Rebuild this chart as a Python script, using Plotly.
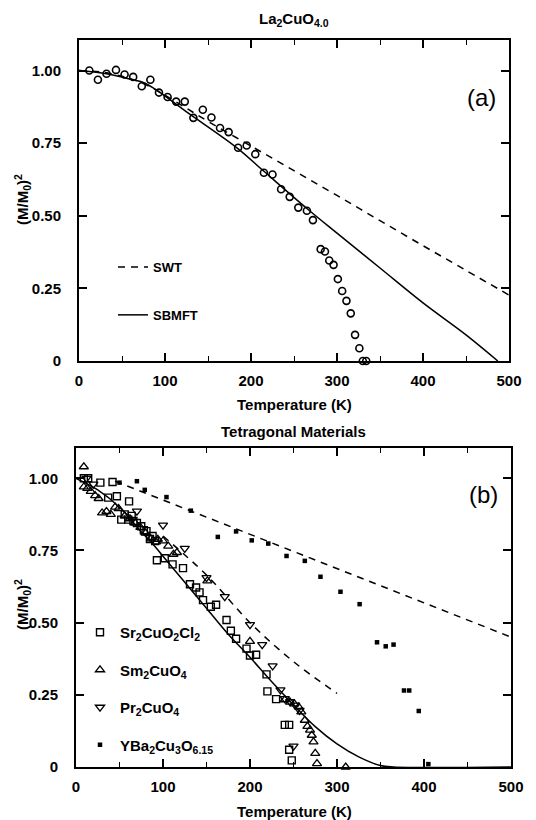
import plotly.graph_objects as go

# ---------------- Panel (a): La2CuO4.0 ----------------
la_T = [12, 22, 32, 43, 53, 63, 73, 83, 93, 103, 113, 123, 133, 144, 154, 164, 174,
        185, 195, 205, 215, 225, 235, 245, 255, 265, 272, 281, 286, 291, 296, 301,
        306, 311, 316, 321, 326, 330, 334]
la_M = [1.00, 0.968, 0.989, 1.002, 0.986, 0.978, 0.946, 0.968, 0.924, 0.909, 0.893,
        0.893, 0.837, 0.865, 0.838, 0.802, 0.788, 0.734, 0.742, 0.712, 0.648, 0.642,
        0.591, 0.565, 0.528, 0.517, 0.485, 0.385, 0.377, 0.346, 0.331, 0.282, 0.241,
        0.207, 0.164, 0.090, 0.044, 0.0, 0.0]

swt_T = [0, 25, 50, 75, 100, 125, 150, 200, 250, 300, 350, 400, 450, 500]
swt_M = [1.0, 0.995, 0.98, 0.955, 0.915, 0.87, 0.825, 0.74, 0.655, 0.57, 0.483,
         0.397, 0.312, 0.227]

sb_T = [0, 30, 60, 77, 130, 184, 215, 265, 300, 350, 400, 450, 487]
sb_M = [1.0, 0.99, 0.97, 0.956, 0.847, 0.733, 0.653, 0.525, 0.44, 0.32, 0.2, 0.09, 0.0]

# ---------------- Panel (b): Tetragonal materials ----------------
sr_T = [9, 14, 28, 42, 37, 47, 61, 52, 56, 60, 64, 66, 70, 75, 78, 81, 85, 88, 91,
        93, 102, 111, 123, 131, 138, 142, 146, 155, 161, 173, 178, 184, 196, 200,
        207, 219, 220, 230, 240, 245, 245, 248, 254, 265]
sr_M = [1.0, 1.0, 0.985, 0.987, 0.933, 0.938, 0.92, 0.857, 0.875, 0.857, 0.87, 0.852,
        0.845, 0.834, 0.82, 0.817, 0.79, 0.80, 0.783, 0.716, 0.723, 0.702, 0.689,
        0.633, 0.622, 0.605, 0.578, 0.555, 0.562, 0.509, 0.472, 0.444, 0.41, 0.386,
        0.389, 0.321, 0.262, 0.235, 0.146, 0.146, 0.06, 0.023, -0.012, -0.012]

sm_T = [9, 9, 13, 17, 22, 26, 30, 35, 40, 45, 49, 56, 62, 68, 74, 80, 86, 92, 94,
        100, 106, 112, 116, 151, 200, 240, 246, 251, 256, 259, 263, 266, 269, 271,
        273, 275, 277, 289, 294, 299, 310]
sm_M = [1.04, 0.97, 0.965, 0.955, 0.94, 0.93, 0.88, 0.885, 0.875, 0.90, 0.895, 0.87,
        0.86, 0.845, 0.83, 0.81, 0.79, 0.78, 0.789, 0.783, 0.765, 0.737, 0.743,
        0.645, 0.435, 0.233, 0.225, 0.219, 0.208, 0.191, 0.162, 0.141, 0.128, 0.11,
        0.087, 0.047, 0.012, -0.005, -0.005, -0.003, 0.0]

pr_T = [12, 20, 70, 100, 125, 150, 171, 200, 214, 226, 235, 240, 246, 252, 257,
        250, 256]
pr_M = [1.0, 0.98, 0.886, 0.838, 0.757, 0.656, 0.59, 0.493, 0.424, 0.35, 0.267,
        0.237, 0.226, 0.214, 0.196, 0.072, -0.008]

yb_T = [50, 70, 79, 104, 132, 163, 184, 202, 221, 242, 263, 281, 304, 326, 346,
        356, 365, 377, 383, 394, 405, 439, 471]
yb_M = [0.985, 0.99, 0.96, 0.935, 0.888, 0.797, 0.816, 0.785, 0.774, 0.731, 0.714,
        0.659, 0.607, 0.564, 0.432, 0.418, 0.424, 0.265, 0.265, 0.194, 0.01,
        -0.005, -0.005]

fitb_T = [0, 25, 50, 75, 89, 100, 125, 150, 175, 200, 225, 250, 275, 300, 325,
          350, 365, 500]
fitb_M = [1.0, 0.96, 0.9, 0.815, 0.77, 0.73, 0.64, 0.55, 0.46, 0.38, 0.295, 0.215,
          0.14, 0.08, 0.035, 0.005, 0.0, 0.0]

swtb_T = [100, 150, 200, 250, 300]
swtb_M = [0.80, 0.665, 0.50, 0.365, 0.255]

ybfit_T = [45, 500]
ybfit_M = [0.99, 0.45]

tick_vals_y = [0, 0.25, 0.5, 0.75, 1.0]
tick_text_y = ["0", "0.25", "0.50", "0.75", "1.00"]
tick_vals_x = [0, 100, 200, 300, 400, 500]

FONT = "Liberation Sans"
W, H = 536, 820

fig = go.Figure()

# --- top panel traces
fig.add_trace(go.Scatter(x=la_T, y=la_M, mode="markers", showlegend=False,
                         marker=dict(symbol="circle-open", size=7, color="black",
                                     line=dict(width=1.6)),
                         cliponaxis=False, xaxis="x", yaxis="y"))
fig.add_trace(go.Scatter(x=swt_T, y=swt_M, mode="lines", name="SWT",
                         line=dict(color="black", width=1.5, dash="7px,6px", shape="spline"),
                         xaxis="x", yaxis="y", legend="legend", legendgroup="a1"))
fig.add_trace(go.Scatter(x=sb_T, y=sb_M, mode="lines", name="SBMFT",
                         line=dict(color="black", width=1.5, shape="spline"),
                         xaxis="x", yaxis="y", legend="legend", legendgroup="a2"))

# --- bottom panel traces
fig.add_trace(go.Scatter(x=fitb_T, y=fitb_M, mode="lines", showlegend=False,
                         line=dict(color="black", width=1.5, shape="spline"),
                         xaxis="x2", yaxis="y2"))
fig.add_trace(go.Scatter(x=swtb_T, y=swtb_M, mode="lines", showlegend=False,
                         line=dict(color="black", width=1.5, dash="7px,6px", shape="spline"),
                         xaxis="x2", yaxis="y2"))
fig.add_trace(go.Scatter(x=ybfit_T, y=ybfit_M, mode="lines", showlegend=False,
                         line=dict(color="black", width=1.5, dash="7px,6px"),
                         xaxis="x2", yaxis="y2"))

fig.add_trace(go.Scatter(x=sr_T, y=sr_M, mode="markers",
                         name="Sr<sub>2</sub>CuO<sub>2</sub>Cl<sub>2</sub>",
                         marker=dict(symbol="square-open", size=7, color="black",
                                     line=dict(width=1.4)),
                         cliponaxis=False, xaxis="x2", yaxis="y2",
                         legend="legend2", legendgroup="b1"))
fig.add_trace(go.Scatter(x=sm_T, y=sm_M, mode="markers",
                         name="Sm<sub>2</sub>CuO<sub>4</sub>",
                         marker=dict(symbol="triangle-up-open", size=8, color="black",
                                     line=dict(width=1.3)),
                         cliponaxis=False, xaxis="x2", yaxis="y2",
                         legend="legend2", legendgroup="b2"))
fig.add_trace(go.Scatter(x=pr_T, y=pr_M, mode="markers",
                         name="Pr<sub>2</sub>CuO<sub>4</sub>",
                         marker=dict(symbol="triangle-down-open", size=8, color="black",
                                     line=dict(width=1.3)),
                         cliponaxis=False, xaxis="x2", yaxis="y2",
                         legend="legend2", legendgroup="b3"))
fig.add_trace(go.Scatter(x=yb_T, y=yb_M, mode="markers",
                         name="YBa<sub>2</sub>Cu<sub>3</sub>O<sub>6.15</sub>",
                         marker=dict(symbol="square", size=4.5, color="black"),
                         cliponaxis=False, xaxis="x2", yaxis="y2",
                         legend="legend2", legendgroup="b4"))

tickfont = dict(family=FONT, size=15, color="black", weight="bold")

def xax(domain, anchor):
    return dict(domain=domain, anchor=anchor, range=[0, 500], tickvals=tick_vals_x,
                showline=True, linewidth=2, linecolor="black", mirror="allticks",
                ticks="inside", ticklen=8, tickwidth=1.5, tickcolor="black",
                minor=dict(dtick=50, tick0=0, ticks="inside", ticklen=5, tickwidth=1.3,
                           tickcolor="black"),
                showgrid=False, zeroline=False, tickfont=tickfont,
                ticklabelstandoff=5, automargin=False)

def yax(domain, anchor):
    return dict(domain=domain, anchor=anchor, range=[0, 1.105], tickvals=tick_vals_y,
                ticktext=tick_text_y, showline=True, linewidth=2, linecolor="black",
                mirror="allticks", ticks="inside", ticklen=8, tickwidth=1.5,
                tickcolor="black", showgrid=False, zeroline=False, tickfont=tickfont,
                ticklabelstandoff=13, automargin=False)

layout = dict(
    width=W, height=H, margin=dict(l=0, r=0, t=0, b=0, autoexpand=False),
    paper_bgcolor="white", plot_bgcolor="white",
    xaxis=xax([79 / W, 509 / W], "y"),
    yaxis=yax([1 - 361 / H, 1 - 40 / H], "x"),
    xaxis2=xax([76 / W, 511 / W], "y2"),
    yaxis2=yax([1 - 767 / H, 1 - 448 / H], "x2"),
    legend=dict(x=113 / W, y=1 - 252 / H, xanchor="left", yanchor="top",
                bgcolor="rgba(0,0,0,0)", tracegroupgap=28, traceorder="grouped",
                font=dict(family=FONT, size=13, color="black", weight="bold"),
                itemwidth=30),
    legend2=dict(x=80 / W, y=1 - 616 / H, xanchor="left", yanchor="top",
                 bgcolor="rgba(0,0,0,0)", tracegroupgap=15, traceorder="grouped",
                 font=dict(family=FONT, size=15, color="black", weight="bold"),
                 itemwidth=30),
    showlegend=True,
)
fig.update_layout(**layout)

ann_font = dict(family=FONT, size=15, color="black", weight="bold")

def ann(text, px, py, font, angle=0):
    return dict(text=text, x=px / W, y=1 - py / H, xref="paper", yref="paper",
                xanchor="center", yanchor="middle", showarrow=False,
                textangle=angle, font=font)

annotations = [
    ann("La<sub>2</sub>CuO<sub>4.0</sub>", 294, 19, ann_font),
    ann("Tetragonal Materials", 293, 431, ann_font),
    ann("Temperature (K)", 294, 404, ann_font),
    ann("Temperature (K)", 294, 811, ann_font),
    ann("(M/M<sub>0</sub>)<sup>2</sup>", 22, 200, ann_font, -90),
    ann("(M/M<sub>0</sub>)<sup>2</sup>", 22, 605, ann_font, -90),
    ann("(a)", 481, 97, dict(family=FONT, size=24, color="black")),
    ann("(b)", 483, 494, dict(family=FONT, size=24, color="black")),
]
fig.update_layout(annotations=annotations)

fig.write_html("out.html", config={"displayModeBar": False},
               post_script="document.body.style.margin='0';document.body.style.overflow='hidden';")
